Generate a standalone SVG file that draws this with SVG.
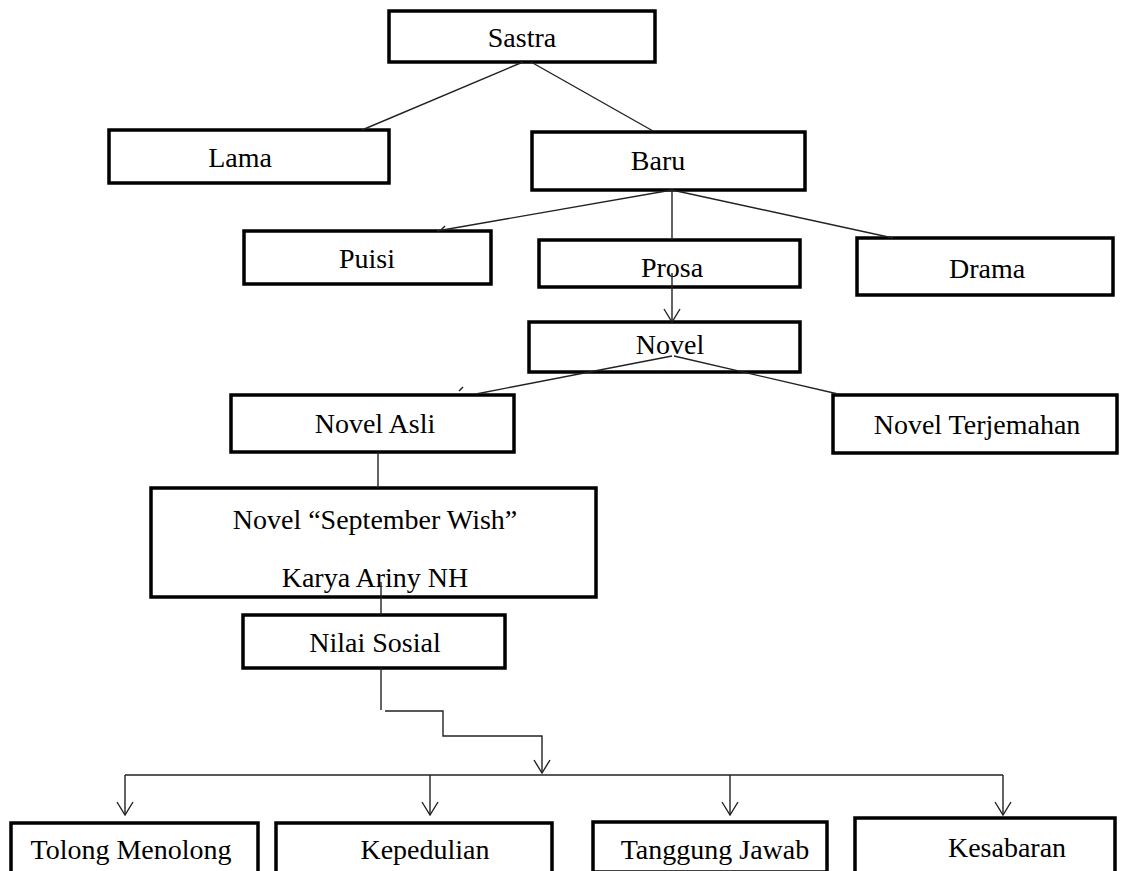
<svg xmlns="http://www.w3.org/2000/svg" width="1125" height="871" viewBox="0 0 1125 871">
<style>
.box{fill:#fff;stroke:#000;stroke-width:3.5}
.lbl{font-family:"Liberation Serif","Times New Roman",serif;font-size:28px;fill:#000;text-anchor:middle}
.c{fill:none;stroke:#222;stroke-width:1.4}
</style>
<defs>
<marker id="ah" viewBox="0 0 15 18" refX="14" refY="9" markerWidth="15" markerHeight="18" markerUnits="userSpaceOnUse" orient="auto">
<path d="M1,1 L14,9 L1,17" fill="none" stroke="#222" stroke-width="1.4"/>
</marker>
</defs>
<rect width="1125" height="871" fill="#fff"/>
<g id="n-sastra"><rect class="box" x="389" y="11" width="266" height="51"/><text class="lbl" x="522" y="47">Sastra</text></g>
<g id="n-lama"><rect class="box" x="109" y="130" width="280" height="53"/><text class="lbl" x="240" y="167">Lama</text></g>
<g id="n-baru"><rect class="box" x="532" y="132" width="273" height="58"/><text class="lbl" x="658" y="170">Baru</text></g>
<g id="n-puisi"><rect class="box" x="244" y="231" width="247" height="53"/><text class="lbl" x="367" y="268">Puisi</text></g>
<g id="n-prosa"><rect class="box" x="539" y="240" width="261" height="47"/><text class="lbl" x="672" y="277">Prosa</text></g>
<g id="n-drama"><rect class="box" x="857" y="238" width="256" height="57"/><text class="lbl" x="987" y="278">Drama</text></g>
<g id="n-novel"><rect class="box" x="529" y="322" width="271" height="50"/><text class="lbl" x="670" y="354">Novel</text></g>
<g id="n-asli"><rect class="box" x="231" y="395" width="283" height="57"/><text class="lbl" x="375" y="433">Novel Asli</text></g>
<g id="n-terjemahan"><rect class="box" x="833" y="395" width="284" height="58"/><text class="lbl" x="977" y="434">Novel Terjemahan</text></g>
<g id="n-september"><rect class="box" x="151" y="488" width="445" height="109"/><text class="lbl" x="375" y="529">Novel “September Wish”</text><text class="lbl" x="375" y="587">Karya Ariny NH</text></g>
<g id="n-nilai"><rect class="box" x="243" y="615" width="262" height="53"/><text class="lbl" x="375" y="652">Nilai Sosial</text></g>
<g id="n-tolong"><rect class="box" x="11" y="823" width="247" height="50"/><text class="lbl" x="131" y="859">Tolong Menolong</text></g>
<g id="n-kepedulian"><rect class="box" x="276" y="823" width="276" height="50"/><text class="lbl" x="425" y="859">Kepedulian</text></g>
<g id="n-tanggung"><rect class="box" x="593" y="822" width="234" height="50"/><text class="lbl" x="715" y="859">Tanggung Jawab</text></g>
<g id="n-kesabaran"><rect class="box" x="855" y="818" width="260" height="55"/><text class="lbl" x="1007" y="857">Kesabaran</text></g>
<g id="connectors">
<line class="c" x1="523" y1="62" x2="362" y2="130"/>
<line class="c" x1="531" y1="62" x2="653" y2="131"/>
<line class="c" x1="672" y1="190" x2="437" y2="231"/>
<path class="c" d="M441,230 L445,226"/>
<line class="c" x1="672" y1="190" x2="672" y2="240"/>
<line class="c" x1="672" y1="190" x2="893" y2="238"/>
<line class="c" x1="672" y1="273" x2="672" y2="322" marker-end="url(#ah)"/>
<line class="c" x1="672" y1="356" x2="476" y2="394"/>
<path class="c" d="M459,391 L463,387"/>
<line class="c" x1="674" y1="356" x2="838" y2="394"/>
<line class="c" x1="378" y1="452" x2="378" y2="488"/>
<line class="c" x1="381" y1="582" x2="381" y2="615"/>
<line class="c" x1="381" y1="668" x2="381" y2="710"/>
<path class="c" d="M385,711 H443 V736 H542 V773" marker-end="url(#ah)"/>
<line class="c" x1="125" y1="775" x2="1003" y2="775"/>
<line class="c" x1="125" y1="775" x2="125" y2="815" marker-end="url(#ah)"/>
<line class="c" x1="430" y1="775" x2="430" y2="815" marker-end="url(#ah)"/>
<line class="c" x1="730" y1="775" x2="730" y2="815" marker-end="url(#ah)"/>
<line class="c" x1="1003" y1="775" x2="1003" y2="815" marker-end="url(#ah)"/>
</g>
</svg>
